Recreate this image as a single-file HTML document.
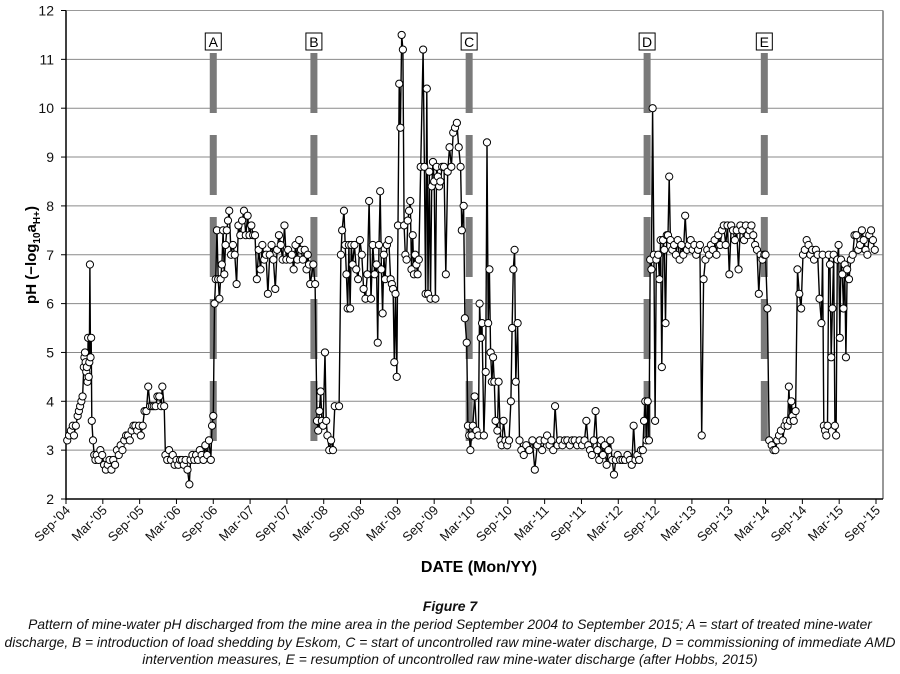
<!DOCTYPE html>
<html><head><meta charset="utf-8">
<style>
html,body{margin:0;padding:0;background:#fff;}
body{width:900px;height:674px;overflow:hidden;font-family:"Liberation Sans",sans-serif;}
.cap{position:absolute;left:0;width:900px;text-align:center;font-style:italic;font-size:13.8px;color:#111;white-space:nowrap;}
</style></head>
<body>
<svg id="chart" width="900" height="590" style="position:absolute;left:0;top:0" font-family="Liberation Sans, sans-serif"></svg>
<div class="cap" style="top:598px;font-weight:bold;font-size:14px;">Figure 7</div>
<div class="cap" style="top:616px;line-height:17.5px;">Pattern of mine-water pH discharged from the mine area in the period September 2004 to September 2015; A = start of treated mine-water<br>discharge, B = introduction of load shedding by Eskom, C = start of uncontrolled raw mine-water discharge, D = commissioning of immediate AMD<br>intervention measures, E = resumption of uncontrolled raw mine-water discharge (after Hobbs, 2015)</div>
<script>
const months=[0.2,0.5,0.8,1.1,1.3,1.6,1.9,2.1,2.3,2.5,2.7,2.9,3.0,3.1,3.2,3.3,3.4,3.5,3.6,3.7,3.8,3.9,4.0,4.1,4.2,4.4,4.6,4.8,5.0,5.3,5.6,5.9,6.2,6.5,6.8,7.1,7.4,7.7,8.0,8.3,8.6,8.9,9.2,9.5,9.8,10.1,10.4,10.7,11.0,11.3,11.6,11.9,12.2,12.5,12.8,13.1,13.4,13.7,14.0,14.3,14.6,14.9,15.2,15.5,15.7,16.0,16.2,16.5,16.8,17.1,17.4,17.7,18.0,18.3,18.6,18.9,19.2,19.5,19.8,20.1,20.3,20.6,20.9,21.2,21.5,21.8,22.1,22.4,22.7,23.0,23.3,23.6,23.8,24.0,24.2,24.4,24.6,24.8,25.0,25.2,25.4,25.6,25.8,26.0,26.2,26.4,26.6,26.9,27.2,27.5,27.8,28.1,28.4,28.7,29.0,29.3,29.6,29.9,30.2,30.5,30.8,31.1,31.4,31.7,32.0,32.3,32.6,32.9,33.2,33.5,33.8,34.1,34.4,34.7,35.0,35.3,35.6,35.9,36.2,36.5,36.8,37.1,37.4,37.7,38.0,38.3,38.6,38.9,39.2,39.4,39.6,39.8,40.3,40.6,40.9,41.1,41.3,41.5,41.7,41.9,42.2,42.4,42.6,42.9,43.2,43.5,43.8,44.5,44.8,45.0,45.3,45.5,45.7,45.9,46.1,46.3,46.5,46.7,47.0,47.3,47.6,47.9,48.2,48.5,48.8,49.1,49.4,49.7,50.0,50.3,50.6,50.8,51.0,51.2,51.4,51.6,51.8,52.0,52.3,52.6,52.9,53.1,53.3,53.5,53.7,53.9,54.1,54.3,54.5,54.7,54.9,55.1,55.3,55.5,55.7,55.9,56.1,56.3,56.5,56.7,56.9,57.1,57.3,57.5,57.8,58.2,58.4,58.6,58.8,59.0,59.2,59.4,59.6,59.8,60.0,60.2,60.4,60.6,60.8,61.0,61.3,61.6,61.9,62.2,62.5,62.8,63.1,63.4,63.7,64.0,64.3,64.5,64.8,65.0,65.3,65.5,65.7,65.9,66.1,66.3,66.6,66.9,67.2,67.4,67.6,67.8,68.1,68.4,68.6,68.8,69.0,69.2,69.4,69.6,69.8,70.0,70.3,70.5,70.8,71.0,71.3,71.6,71.9,72.2,72.5,72.7,72.9,73.1,73.3,73.6,73.9,74.2,74.6,75.0,75.5,76.0,76.4,76.8,77.2,77.6,78.0,78.4,78.8,79.1,79.4,79.7,80.1,80.5,80.9,81.3,81.7,82.1,82.5,82.9,83.3,83.7,84.1,84.5,84.8,85.1,85.4,85.7,86.0,86.3,86.6,86.9,87.2,87.5,87.8,88.1,88.4,88.7,89.0,89.3,89.6,89.9,90.3,90.7,91.1,91.5,91.9,92.2,92.5,92.8,93.1,93.4,93.7,94.0,94.2,94.4,94.6,94.8,95.0,95.2,95.4,95.6,95.8,96.0,96.2,96.5,96.7,96.9,97.1,97.3,97.5,97.7,97.9,98.1,98.3,98.5,98.8,99.1,99.4,99.7,100.0,100.3,100.6,100.9,101.2,101.5,101.8,102.1,102.4,102.7,103.0,103.3,103.6,103.9,104.2,104.5,104.8,105.1,105.4,105.7,106.0,106.3,106.6,106.9,107.2,107.5,107.8,108.1,108.4,108.7,109.0,109.3,109.6,109.9,110.2,110.5,110.8,111.1,111.4,111.7,112.0,112.3,112.6,112.9,113.2,113.5,113.8,114.0,114.3,114.6,115.0,115.3,115.6,115.9,116.2,116.5,116.8,117.1,117.4,117.6,117.8,118.0,118.2,118.4,118.6,118.9,119.2,119.5,119.8,120.1,120.4,120.7,121.0,121.3,121.6,121.9,122.2,122.5,122.8,123.1,123.3,123.5,123.7,123.9,124.1,124.3,124.5,124.7,124.9,125.1,125.3,125.5,125.7,125.9,126.1,126.3,126.5,126.7,126.9,127.1,127.3,127.6,127.9,128.2,128.5,128.8,129.1,129.4,129.7,130.0,130.3,130.6,130.9,131.2,131.5,131.8];
const phValues=[3.2,3.3,3.4,3.5,3.3,3.5,3.7,3.8,3.9,4.0,4.1,4.7,4.9,5.0,4.8,4.6,4.7,4.4,5.3,4.5,4.8,6.8,4.9,5.3,3.6,3.2,2.9,2.8,2.9,2.8,3.0,2.9,2.7,2.6,2.7,2.8,2.6,2.8,2.7,3.0,2.9,3.1,3.0,3.2,3.3,3.3,3.2,3.4,3.5,3.5,3.4,3.5,3.3,3.5,3.8,3.8,4.3,3.9,3.9,3.9,3.9,4.1,4.1,3.9,4.3,3.9,2.9,2.8,3.0,2.8,2.9,2.7,2.8,2.7,2.8,2.8,2.7,2.8,2.6,2.3,2.8,2.9,2.8,2.9,2.8,3.0,2.9,2.8,3.1,2.9,3.2,2.8,3.5,3.7,6.0,6.5,7.5,6.5,6.1,6.5,6.8,7.5,6.6,7.2,7.5,7.7,7.9,7.0,7.2,7.0,6.4,7.6,7.4,7.7,7.9,7.4,7.8,7.4,7.6,7.4,7.4,6.5,7.1,6.7,7.2,6.9,7.0,6.2,7.0,7.2,6.9,6.3,7.1,7.4,7.2,6.9,7.6,6.9,7.1,6.9,7.0,6.7,7.2,6.9,7.3,7.1,6.9,7.1,6.7,7.0,6.8,6.4,6.8,6.4,3.6,3.4,3.8,4.2,3.6,3.5,5.0,3.6,3.3,3.0,3.2,3.0,3.9,3.9,7.0,7.5,7.9,7.2,6.6,5.9,7.2,5.9,7.2,6.8,7.2,6.7,6.5,7.3,7.0,6.3,6.1,6.6,8.1,6.1,7.2,6.6,6.8,5.2,7.2,8.3,6.7,5.8,7.0,6.5,7.2,7.3,6.5,6.4,6.3,4.8,6.2,4.5,7.6,10.5,9.6,11.5,11.2,7.6,7.0,6.9,7.7,7.9,8.1,6.7,7.4,6.6,7.0,6.8,6.6,6.9,8.8,11.2,8.8,6.2,10.4,6.2,8.7,6.1,8.4,8.9,8.5,6.1,8.8,8.6,8.4,8.5,8.8,8.8,6.6,8.7,9.2,8.8,9.5,9.6,9.7,9.2,8.8,7.5,8.0,5.7,5.2,3.5,3.3,3.0,3.3,3.5,4.1,3.4,3.3,6.0,5.3,5.6,3.3,4.6,9.3,5.6,6.7,5.0,4.4,4.9,4.4,3.6,3.4,4.4,3.2,3.1,3.6,3.2,3.1,3.2,4.0,5.5,6.7,7.1,4.4,5.6,3.2,3.0,2.9,3.1,3.0,3.2,2.6,3.1,3.2,3.0,3.2,3.3,3.1,3.2,3.0,3.9,3.1,3.2,3.1,3.2,3.2,3.1,3.2,3.2,3.1,3.2,3.1,3.2,3.6,3.1,3.0,2.9,3.2,3.8,3.0,2.8,3.2,2.9,3.1,2.7,3.0,3.2,2.8,2.5,2.8,2.9,2.8,2.8,2.8,2.9,2.8,2.7,3.5,2.8,2.9,2.8,3.0,3.0,3.6,4.0,3.2,4.0,3.2,6.9,6.7,10.0,7.0,3.6,6.9,7.0,6.5,7.3,4.7,7.3,7.1,5.6,7.4,7.4,8.6,7.3,7.1,7.2,7.0,7.3,6.9,7.2,7.0,7.8,7.1,7.2,7.3,7.1,7.2,7.0,7.1,7.2,3.3,6.5,6.9,7.1,7.0,7.2,7.1,7.3,7.0,7.4,7.2,7.5,7.6,7.2,7.6,6.6,7.6,7.5,7.3,7.5,6.7,7.6,7.5,7.3,7.6,7.4,7.5,7.6,7.4,7.2,7.1,6.2,7.0,6.9,7.0,7.0,5.9,3.2,3.1,3.0,3.0,3.2,3.3,3.4,3.2,3.5,3.6,3.5,4.3,3.6,4.0,3.7,3.6,3.8,6.7,6.2,5.9,7.0,7.1,7.3,7.2,7.0,7.1,6.9,7.1,7.0,6.1,5.6,7.0,3.5,3.4,3.3,3.5,7.0,6.8,4.9,5.9,7.0,3.5,3.3,6.9,7.2,5.3,6.9,6.6,5.9,6.8,4.9,6.7,6.5,6.9,7.0,7.4,7.4,7.1,7.2,7.5,7.3,7.1,7.0,7.4,7.5,7.3,7.1,7.4,7.1];
const tickLabels=["Sep-'04","Mar-'05","Sep-'05","Mar-'06","Sep-'06","Mar-'07","Sep-'07","Mar-'08","Sep-'08","Mar-'09","Sep-'09","Mar-'10","Sep-'10","Mar-'11","Sep-'11","Mar-'12","Sep-'12","Mar-'13","Sep-'13","Mar-'14","Sep-'14","Mar-'15","Sep-'15"];
const yTicks=[2,3,4,5,6,7,8,9,10,11,12];
const eventLabels=["A","B","C","D","E"];
const eventMonths=[24.0,40.4,65.7,94.7,113.8];

const NS="http://www.w3.org/2000/svg";
const svg=document.getElementById('chart');
const L=66,R=883,T=10.5,B=499;
const PXM=(876-66)/132;
const xs=m=>L+m*PXM;
const ys=v=>B-(v-2)*(B-T)/10;
function mk(tag,attrs,parent){const e=document.createElementNS(NS,tag);for(const k in attrs)e.setAttribute(k,attrs[k]);(parent||svg).appendChild(e);return e;}

yTicks.forEach(v=>{
  if(v>2){const g=mk('line',{x1:L,x2:R,y1:ys(v),y2:ys(v),stroke:v===12?'#999':'#8a8a8a','stroke-width':1});
  
  }
  const t=mk('text',{x:L-12,y:ys(v)+5,'text-anchor':'end','font-size':14,fill:'#111'});
  t.textContent=v;
  
  
  mk('line',{x1:L-5,x2:L,y1:ys(v),y2:ys(v),stroke:'#000'});
});
mk('line',{x1:R,x2:R,y1:T,y2:B,stroke:'#777','stroke-width':1.5});
const ya=mk('line',{x1:L,x2:L,y1:T,y2:B+1,stroke:'#000','stroke-width':1.5});


const xa=mk('line',{x1:L,x2:R,y1:B,y2:B,stroke:'#000','stroke-width':1.5});


tickLabels.forEach((lab,i)=>{
  const x=xs(i*6);
  mk('line',{x1:x,x2:x,y1:B,y2:B+5,stroke:'#000'});
  const t=mk('text',{x:0,y:0,'text-anchor':'end','font-size':13,fill:'#111',transform:`translate(${x+5},${B+12}) rotate(-45)`});
  t.textContent=lab;
  
  
});
eventLabels.forEach((lab,i)=>{
  const x=xs(eventMonths[i]);
  const g=mk('g',{});
  
  
  for(let k=0;k<5;k++){
    const y0=53+k*82;
    mk('rect',{x:x-3.5,y:y0,width:7,height:60,fill:'#7a7a7a'},g);
  }
  mk('rect',{x:x-8,y:33,width:16,height:17,fill:'#fff',stroke:'#000','stroke-width':1},g);
  const t=mk('text',{x:x,y:47,'text-anchor':'middle','font-size':14,fill:'#000'},g);
  t.textContent=lab;
});
let d='';
months.forEach((m,i)=>{d+=(i?'L':'M')+xs(m).toFixed(1)+','+ys(phValues[i]).toFixed(1);});
const line=mk('path',{d:d,fill:'none',stroke:'#000','stroke-width':1.4});


const pg=mk('g',{});


months.forEach((m,i)=>{
  const c=mk('circle',{cx:xs(m),cy:ys(phValues[i]),r:3.6,fill:'#fff',stroke:'#000','stroke-width':1},pg);
  
  
});
const xt=mk('text',{x:479,y:572,'text-anchor':'middle','font-size':16,'font-weight':'bold',fill:'#000'});
xt.textContent='DATE   (Mon/YY)';


const yt=mk('text',{x:0,y:0,'text-anchor':'middle','font-size':15,'font-weight':'bold',fill:'#000',transform:'translate(36,255) rotate(-90)'});


yt.innerHTML='pH  (\u2212log<tspan font-size="10" dy="4">10</tspan><tspan dy="-4">a</tspan><tspan font-size="10" dy="4">H+</tspan><tspan dy="-4">)</tspan>';
</script>
</body></html>
